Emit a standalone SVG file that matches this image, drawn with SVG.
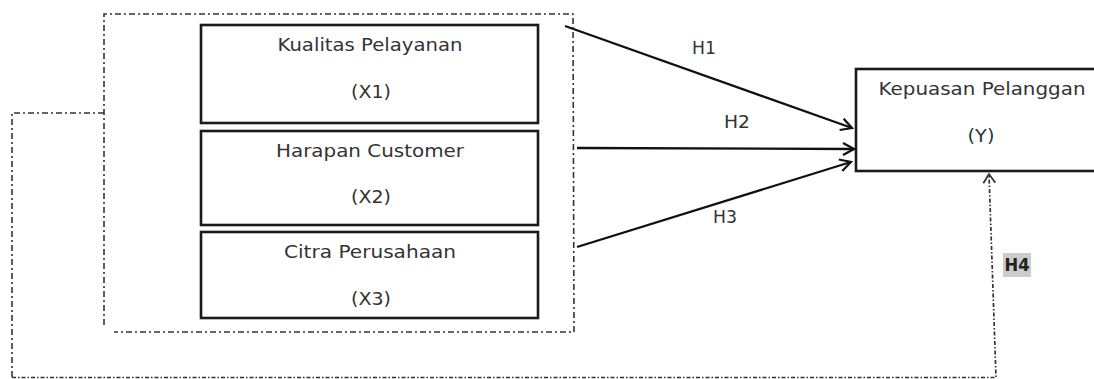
<svg xmlns="http://www.w3.org/2000/svg" width="1094" height="379" viewBox="0 0 1094 379">
<style>
.box{fill:#fff;stroke:#1a1a1a;stroke-width:2.6}
.t{font-family:"DejaVu Sans",Verdana,sans-serif;font-size:17px;fill:#333;text-anchor:middle}
.dd{fill:none;stroke:#333;stroke-width:1.6;stroke-dasharray:6,3,2,3}
.dd2{fill:none;stroke:#333;stroke-width:1.7;stroke-dasharray:4,2,1.5,2}
.arr{fill:none;stroke:#111;stroke-width:2.3;marker-end:url(#ah)}
</style>
<defs>
<marker id="ah" viewBox="0 0 14 14" refX="12" refY="7" markerWidth="14" markerHeight="14" markerUnits="userSpaceOnUse" orient="auto">
<path d="M1,1 L12,7 L1,13" fill="none" stroke="#111" stroke-width="2.2"/>
</marker>
<marker id="ah2" viewBox="0 0 14 14" refX="12" refY="7" markerWidth="14" markerHeight="14" markerUnits="userSpaceOnUse" orient="auto">
<path d="M3,1 L12,7 L3,13" fill="none" stroke="#333" stroke-width="1.8"/>
</marker>
</defs>
<rect width="1094" height="379" fill="#fff"/>
<g id="group">
<path class="dd" d="M104,325 L104,14 L573,14 L574,332 L114,332"/>
</g>
<g id="x1">
<rect class="box" x="201" y="25" width="337" height="98"/>
<text class="t" x="370" y="51" textLength="185" lengthAdjust="spacingAndGlyphs">Kualitas Pelayanan</text>
<text class="t" x="371" y="98" textLength="40" lengthAdjust="spacingAndGlyphs">(X1)</text>
</g>
<g id="x2">
<rect class="box" x="201" y="131" width="337" height="94"/>
<text class="t" x="370" y="157" textLength="188" lengthAdjust="spacingAndGlyphs">Harapan Customer</text>
<text class="t" x="371" y="203" textLength="40" lengthAdjust="spacingAndGlyphs">(X2)</text>
</g>
<g id="x3">
<rect class="box" x="201" y="232" width="337" height="86"/>
<text class="t" x="370" y="258" textLength="172" lengthAdjust="spacingAndGlyphs">Citra Perusahaan</text>
<text class="t" x="371" y="305" textLength="40" lengthAdjust="spacingAndGlyphs">(X3)</text>
</g>
<g id="y">
<rect class="box" x="856" y="69" width="250" height="102"/>
<text class="t" x="982" y="95" textLength="207" lengthAdjust="spacingAndGlyphs">Kepuasan Pelanggan</text>
<text class="t" x="981" y="142" textLength="27" lengthAdjust="spacingAndGlyphs">(Y)</text>
</g>
<g id="connectors">
<path class="arr" d="M565,26 L852,128"/>
<path class="arr" d="M577,148 L854,149"/>
<path class="arr" d="M577,247 L851,162"/>
<path class="dd" d="M104,113 L12,113 L12,378"/>
<path class="dd2" d="M12,377.5 L996,377.5 L989,174" marker-end="url(#ah2)"/>
<text class="t" x="704" y="54" textLength="24" lengthAdjust="spacingAndGlyphs">H1</text>
<text class="t" x="737" y="128" textLength="26" lengthAdjust="spacingAndGlyphs">H2</text>
<text class="t" x="725" y="223" textLength="24" lengthAdjust="spacingAndGlyphs">H3</text>
<rect x="1003" y="253" width="28" height="24" fill="#cccccc"/>
<text class="t" x="1017" y="271" textLength="25" lengthAdjust="spacingAndGlyphs" style="font-weight:bold;fill:#222">H4</text>
</g>
</svg>
